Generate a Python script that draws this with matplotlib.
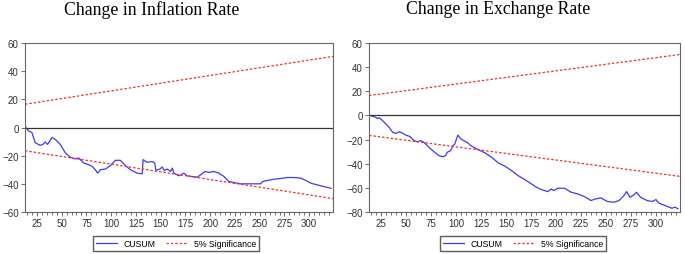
# CUSUM stability plots: inflation rate and exchange rate

import numpy as np
import matplotlib
matplotlib.use('Agg')
import matplotlib.pyplot as plt
from matplotlib.ticker import MultipleLocator

plt.rcParams['font.family'] = ['Liberation Sans', 'DejaVu Sans']

# CUSUM path, Change in Inflation Rate
infl_x = [14, 16.6, 20, 23.3, 28.4, 31, 33.4, 35.8, 40.2, 43.6, 48.6, 53.7, 58.7, 63.8,
          67.2, 72.2, 77.3, 80.7, 84, 86.4, 89.1, 94.2, 99.2, 104.3, 109.3, 114.4, 119.5,
          126.2, 131.3, 132.3, 136.3, 141.4, 144.1, 145.1, 149.2, 151.5, 153.9, 156.6,
          160, 161.7, 163.3, 168.4, 173.4, 176.8, 181.9, 186.9, 190.3, 194.7, 198.7,
          203.8, 208.8, 213.9, 219, 224, 230.8, 240.9, 251, 252.7, 257.8, 264.5, 271.3,
          278, 284.8, 291.6, 296.6, 301.7, 308.4, 315.2, 322]
infl_y = [0, -2.4, -3.6, -10.8, -12.7, -12, -10.3, -12, -7.2, -8.4, -12, -18, -21.1, -22.3,
          -21.6, -25.2, -26.4, -27.6, -30, -32.4, -30, -29.5, -27.1, -23.3, -23.3, -27.1,
          -30, -32.4, -32.9, -22.8, -24.7, -24.2, -25.2, -30.5, -29.5, -28.1, -30.5, -29.5,
          -31.2, -28.8, -32.4, -34.3, -32.4, -34.3, -34.8, -35.3, -33.6, -31.2, -31.9,
          -31.2, -32.4, -34.8, -38.4, -39.1, -40, -40, -40, -38.4, -37.6, -36.7, -36.2,
          -35.5, -35.5, -36, -37.6, -39.6, -40.8, -42, -43.2]

# CUSUM path, Change in Exchange Rate
exch_x = [14, 18.4, 21.7, 23.3, 26.7, 30, 33.3, 36.6, 39.9, 43.2, 46.5, 49.8, 53.8, 58.1,
          61.4, 64.7, 68, 73, 77.9, 82.9, 86.9, 89.5, 91.2, 94.5, 96.8, 98.8, 100.4, 102,
          104.3, 107.7, 111, 115.9, 122.5, 129.1, 135.7, 142.4, 149, 155.6, 162.2, 168.8,
          175.4, 180.4, 185.3, 191.9, 195.2, 197.9, 201.8, 208.4, 215.1, 221.7, 228.3,
          234.9, 239.9, 244.8, 251.4, 258, 263, 267.9, 270.6, 273.9, 277.9, 280.5, 284.5,
          291.1, 296, 300, 302.6, 309.2, 315.9, 319.2, 322]
exch_y = [0, -1.1, -2.5, -1.9, -4.4, -7.2, -9.9, -14, -14.9, -13.5, -14.6, -16.3, -17.4,
          -20.9, -21.8, -20.9, -22.3, -26.4, -30, -33.3, -34.2, -33.3, -30.6, -29.2, -25.1,
          -23.7, -19.6, -16.3, -19, -20.9, -22.3, -25.6, -28.4, -31.1, -34.7, -39.4, -42.1,
          -45.7, -49.9, -53.2, -56.7, -59.5, -61.4, -63.1, -60.9, -62.3, -60.3, -60.3,
          -63.6, -65, -67.2, -70.5, -69.1, -68.3, -71.3, -71.9, -70.5, -66.4, -63.1, -67.8,
          -65.8, -63.6, -67.8, -70.5, -71.3, -69.7, -72.5, -74.7, -76.9, -76, -77.4]

# 5% significance bounds (end points)
sig_x = [13, 324]
sig_y = [16.5, 50.5]

titles = ['Change in Inflation Rate', 'Change in Exchange Rate']
ylims = [(-60, 60), (-80, 60)]

fig = plt.figure(figsize=(6.85, 2.55), dpi=100)
positions = [[0.0365, 0.1647, 0.4496, 0.6627], [0.5387, 0.1647, 0.454, 0.6627]]
title_x = [0.222, 0.727]
legend_x = [0.257, 0.764]

for i, (xs, ys) in enumerate([(infl_x, infl_y), (exch_x, exch_y)]):
    ax = fig.add_axes(positions[i])
    ax.plot(xs, ys, color='#3a3af0', lw=0.9, label='CUSUM')
    ax.plot(sig_x, sig_y, color='#f03030', lw=0.9, ls=(0, (2, 1.5)), label='5% Significance')
    ax.plot(sig_x, [-v for v in sig_y], color='#f03030', lw=0.9, ls=(0, (2, 1.5)))
    ax.axhline(0, color='#333333', lw=0.9)
    ax.set_xlim(13, 324)
    ax.set_ylim(*ylims[i])
    ax.xaxis.set_major_locator(MultipleLocator(25))
    ax.xaxis.set_minor_locator(MultipleLocator(5))
    ax.yaxis.set_major_locator(MultipleLocator(20))
    ax.tick_params(axis='both', labelsize=7, labelcolor='#333333', color='#555555',
                   length=3, width=0.6, pad=1.5)
    ax.tick_params(axis='x', which='minor', length=2, width=0.6, color='#555555')
    for s in ax.spines.values():
        s.set_color('#666666')
        s.set_linewidth(0.8)
    fig.text(title_x[i], 0.962, titles[i], ha='center', va='center',
             family='Liberation Serif', fontsize=12.8)
    fig.legend(handles=ax.get_lines()[:2], loc='center', ncol=2,
               bbox_to_anchor=(legend_x[i], 0.041), fontsize=6.3, frameon=True,
               fancybox=False, edgecolor='#333333', handlelength=2.4,
               handletextpad=0.8, columnspacing=1.2, borderpad=0.3)

fig.savefig('out.png', dpi=100)
